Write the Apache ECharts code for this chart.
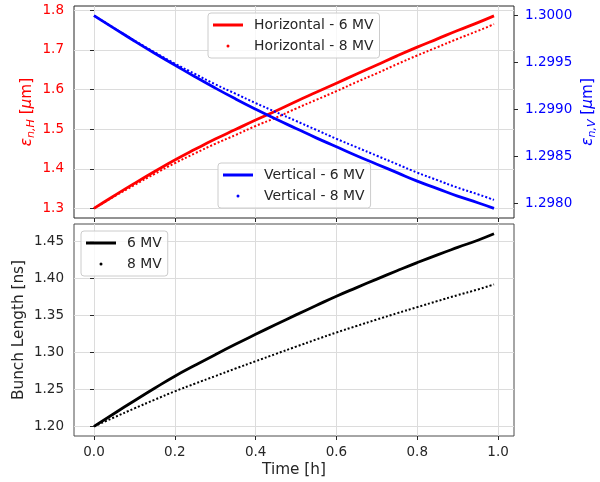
<!DOCTYPE html>
<html>
<head>
<meta charset="utf-8">
<script src="https://cdn.jsdelivr.net/npm/echarts@6/dist/echarts.min.js"></script>
<style>
html,body{margin:0;padding:0;background:#fff;}
#main{width:600px;height:482px;}
</style>
</head>
<body>
<div id="main"></div>
<script>
// 时间 [h]
var time = [0, 0.05, 0.1, 0.15, 0.2, 0.25, 0.3, 0.35, 0.4, 0.45, 0.5, 0.55, 0.6, 0.65, 0.7, 0.75, 0.8, 0.85, 0.9, 0.95, 0.99];

// 水平发射度 [um]
var horiz6 = [1.300, 1.332, 1.363, 1.393, 1.422, 1.449, 1.475, 1.499, 1.523, 1.546, 1.570, 1.593, 1.616, 1.639, 1.662, 1.685, 1.707, 1.728, 1.749, 1.769, 1.786];
var horiz8 = [1.300, 1.330, 1.359, 1.387, 1.414, 1.439, 1.463, 1.485, 1.508, 1.529, 1.552, 1.574, 1.596, 1.619, 1.641, 1.664, 1.686, 1.707, 1.728, 1.748, 1.765];

// 垂直发射度 [um]
var vert6 = [1.30000, 1.299865, 1.29973, 1.29960, 1.299475, 1.29935, 1.29923, 1.299115, 1.299005, 1.29890, 1.29880, 1.29870, 1.298605, 1.29851, 1.29842, 1.29833, 1.29824, 1.29816, 1.29808, 1.29801, 1.29795];
var vert8 = [1.30000, 1.299867, 1.299735, 1.29961, 1.29949, 1.29938, 1.29927, 1.29917, 1.29907, 1.298975, 1.29888, 1.298785, 1.29869, 1.29860, 1.29851, 1.29842, 1.29833, 1.29825, 1.29817, 1.29810, 1.29804];

// 束长 [ns]
var bunch6 = [1.2000, 1.2175, 1.2347, 1.2515, 1.2678, 1.2826, 1.2970, 1.3110, 1.3245, 1.3378, 1.3508, 1.3635, 1.3760, 1.3877, 1.3992, 1.4105, 1.4215, 1.4320, 1.4420, 1.4518, 1.4605];
var bunch8 = [1.2000, 1.2122, 1.2243, 1.2360, 1.2474, 1.2578, 1.2680, 1.2782, 1.2881, 1.2980, 1.3078, 1.3175, 1.3270, 1.3358, 1.3445, 1.3530, 1.3613, 1.3695, 1.3775, 1.3852, 1.3920];

// 刻度
var xTicks = [0, 0.2, 0.4, 0.6, 0.8, 1.0];
var hTicks = [1.3, 1.4, 1.5, 1.6, 1.7, 1.8];
var vTicks = [1.298, 1.2985, 1.299, 1.2995, 1.3];
var bTicks = [1.2, 1.25, 1.3, 1.35, 1.4, 1.45];

function pairs(ys){
    return time.map(function(t, i){ return [t, ys[i]]; });
}

var txt = '#262626';
var gridColor = '#dcdcdc';
var font = 'DejaVu Sans';

var myChart = echarts.init(document.getElementById('main'));

var tickStyle = { show: true, inside: false, length: 4, lineStyle: { color: txt, width: 1 } };

function legendBox(left, top, names){
    return {
        orient: 'vertical',
        left: left, top: top,
        padding: [5, 6, 5, 5],
        itemGap: 7,
        itemWidth: 30, itemHeight: 3,
        backgroundColor: 'rgba(255,255,255,0.8)',
        borderColor: '#cccccc', borderWidth: 1, borderRadius: 3,
        textStyle: { color: txt, fontSize: 13.9, fontFamily: font, padding: [0, 0, 0, 6] },
        data: names
    };
}

// 线条
function curve(name, xi, yi, ys, color, dotted){
    return {
        name: name, type: 'line', xAxisIndex: xi, yAxisIndex: yi, data: pairs(ys),
        smooth: true, showSymbol: false, color: color,
        lineStyle: dotted ? { width: 2, color: color, type: [2, 2] } : { width: 2.8, color: color }
    };
}

var option = {
    backgroundColor: '#fff',
    animation: false,
    textStyle: { fontFamily: font },
    grid: [
        { left: 74, right: 86, top: 6, height: 212, show: true, backgroundColor: '#fff', borderColor: '#262626', borderWidth: 1, outerBoundsMode: 'none' },
        { left: 74, right: 86, top: 224, height: 212, show: true, backgroundColor: '#fff', borderColor: '#4d4d4d', borderWidth: 1, outerBoundsMode: 'none' }
    ],
    legend: [
        legendBox(208, 13, [{ name: 'Horizontal - 6 MV', icon: 'rect' }, { name: 'Horizontal - 8 MV', icon: 'circle' }]),
        legendBox(218, 163, [{ name: 'Vertical - 6 MV', icon: 'rect' }, { name: 'Vertical - 8 MV', icon: 'circle' }]),
        legendBox(81, 231, [{ name: '6 MV', icon: 'rect' }, { name: '8 MV', icon: 'circle' }])
    ],
    xAxis: [
        {
            type: 'value', gridIndex: 0, min: -0.0495, max: 1.0395,
            axisLine: { show: false },
            axisTick: Object.assign({ customValues: xTicks }, tickStyle),
            axisLabel: { show: false, customValues: xTicks },
            splitLine: { show: true, lineStyle: { color: gridColor, width: 1 } }
        },
        {
            type: 'value', gridIndex: 1, min: -0.0495, max: 1.0395,
            name: 'Time [h]', nameLocation: 'middle', nameGap: 27, nameMoveOverlap: false,
            nameTextStyle: { color: txt, fontSize: 15.3, fontFamily: font },
            axisLine: { show: false },
            axisTick: Object.assign({ customValues: xTicks }, tickStyle),
            axisLabel: { customValues: xTicks, color: txt, fontSize: 13.5, fontFamily: font, margin: 9,
                formatter: function(v){ return v.toFixed(1); } },
            splitLine: { show: true, lineStyle: { color: gridColor, width: 1 } }
        }
    ],
    yAxis: [
        {
            type: 'value', gridIndex: 0, min: 1.2757, max: 1.8109, position: 'left',
            name: '{e|ε}{s|n,H} [{e|μ}m]', nameLocation: 'middle', nameGap: 37, nameRotate: 90, nameMoveOverlap: false,
            nameTextStyle: { color: '#ff0000', fontSize: 15.3, fontFamily: font,
                rich: { e: { fontStyle: 'italic', fontSize: 15.3, color: '#ff0000' },
                        s: { fontStyle: 'italic', fontSize: 11, color: '#ff0000', padding: [9, 0, 0, 0] } } },
            axisLine: { show: false },
            axisTick: Object.assign({ customValues: hTicks }, tickStyle),
            axisLabel: { customValues: hTicks, color: '#ff0000', fontSize: 13.5, fontFamily: font, margin: 10,
                formatter: function(v){ return v.toFixed(1); } },
            splitLine: { show: true, lineStyle: { color: gridColor, width: 1 } }
        },
        {
            type: 'value', gridIndex: 0, min: 1.2978475, max: 1.3001025, position: 'right',
            name: '{e|ε}{s|n,V} [{e|μ}m]', nameLocation: 'middle', nameGap: 64, nameRotate: 90, nameMoveOverlap: false,
            nameTextStyle: { color: '#0000ff', fontSize: 15.3, fontFamily: font,
                rich: { e: { fontStyle: 'italic', fontSize: 15.3, color: '#0000ff' },
                        s: { fontStyle: 'italic', fontSize: 11, color: '#0000ff', padding: [9, 0, 0, 0] } } },
            axisLine: { show: false },
            axisTick: Object.assign({ customValues: vTicks }, tickStyle),
            axisLabel: { customValues: vTicks, color: '#0000ff', fontSize: 13.5, fontFamily: font, margin: 11,
                formatter: function(v){ return v.toFixed(4); } },
            splitLine: { show: false }
        },
        {
            type: 'value', gridIndex: 1, min: 1.187, max: 1.4737, position: 'left',
            name: 'Bunch Length [ns]', nameLocation: 'middle', nameGap: 47, nameRotate: 90, nameMoveOverlap: false,
            nameTextStyle: { color: txt, fontSize: 15.3, fontFamily: font },
            axisLine: { show: false },
            axisTick: Object.assign({ customValues: bTicks }, tickStyle),
            axisLabel: { customValues: bTicks, color: txt, fontSize: 13.5, fontFamily: font, margin: 10,
                formatter: function(v){ return v.toFixed(2); } },
            splitLine: { show: true, lineStyle: { color: gridColor, width: 1 } }
        }
    ],
    series: [
        curve('Horizontal - 6 MV', 0, 0, horiz6, '#ff0000', false),
        curve('Horizontal - 8 MV', 0, 0, horiz8, '#ff0000', true),
        curve('Vertical - 6 MV', 0, 1, vert6, '#0000ff', false),
        curve('Vertical - 8 MV', 0, 1, vert8, '#0000ff', true),
        curve('6 MV', 1, 2, bunch6, '#000000', false),
        curve('8 MV', 1, 2, bunch8, '#000000', true)
    ]
};

myChart.setOption(option);
</script>
</body>
</html>
